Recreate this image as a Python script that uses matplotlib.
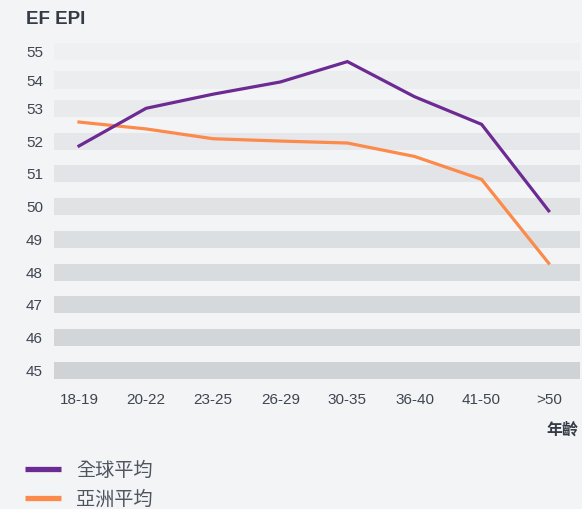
import numpy as np
import matplotlib
matplotlib.use("Agg")
import matplotlib.pyplot as plt

# ---- data ----
categories = ["18-19", "20-22", "23-25", "26-29", "30-35", "36-40", "41-50", ">50"]
global_avg = [51.85, 53.0, 53.5, 53.93, 54.65, 53.41, 52.51, 49.87]
asia_avg = [52.58, 52.37, 52.07, 52.0, 51.94, 51.53, 50.83, 48.27]
y_ticks = [45, 46, 47, 48, 49, 50, 51, 52, 53, 54, 55]
series_names = ["全球平均", "亞洲平均"]

LATIN = ["Liberation Sans", "Noto Sans CJK TC", "DejaVu Sans"]
CJK = ["Noto Sans CJK TC", "DejaVu Sans"]
plt.rcParams["font.family"] = LATIN

BG = "#f3f4f6"
PURPLE = "#6c2a93"
ORANGE = "#fb8a4b"
TXT = "#3f4550"

# piecewise-linear vertical scale (matches the reference's band spacing)
def fwd(v):
    v = np.asarray(v, dtype=float)
    return np.where(v <= 53, (v - 45) * 32.75, 262 + (v - 53) * 28.3)

def inv(t):
    t = np.asarray(t, dtype=float)
    return np.where(t <= 262, 45 + t / 32.75, 53 + (t - 262) / 28.3)

W, H = 582, 509
fig = plt.figure(figsize=(W / 100, H / 100), dpi=100, facecolor=BG)
ax_left, ax_right, ax_top, ax_bot = 54, 580, 40, 385
ax = fig.add_axes([ax_left / W, 1 - ax_bot / H, (ax_right - ax_left) / W, (ax_bot - ax_top) / H])
ax.set_facecolor(BG)
ax.set_yscale("function", functions=(fwd, inv))
ax.set_ylim(float(inv(370.3 - ax_bot)), float(inv(370.3 - ax_top)))

# bands
c_top = np.array([0xef, 0xf0, 0xf2]) / 255
c_bot = np.array([0xd0, 0xd3, 0xd6]) / 255
n = len(y_ticks)
for i, t in enumerate(y_ticks):
    f = i / (n - 1)
    col = c_bot * (1 - f) + c_top * f
    lo = float(inv(fwd(t) - 8.5))
    hi = float(inv(fwd(t) + 8.5))
    ax.axhspan(lo, hi, color=col, lw=0, zorder=0)

x = np.arange(len(categories))
l1, = ax.plot(x, global_avg, color=PURPLE, lw=2.3, solid_joinstyle="miter", zorder=3)
l2, = ax.plot(x, asia_avg, color=ORANGE, lw=2.3, solid_joinstyle="miter", zorder=2)

step = 67.1
ax.set_xlim(-(79 - ax_left) / step, (ax_right - 79) / step)
ax.set_xticks(x)
ax.set_xticklabels(categories)
ax.set_yticks(y_ticks)
ax.set_yticklabels([str(t) for t in y_ticks])
ax.minorticks_off()
ax.tick_params(axis="both", length=0, labelsize=11, labelcolor=TXT)
ax.tick_params(axis="y", pad=8)
ax.tick_params(axis="x", pad=6)
for s in ax.spines.values():
    s.set_visible(False)

fig.text(26 / W, 1 - 19 / H, "EF EPI", fontsize=13.5, fontweight="bold", color="#353b45",
         va="center", ha="left")
fig.text(578 / W, 1 - 430 / H, "年齡", fontsize=11.5, fontweight="bold", color="#353b45",
         va="center", ha="right", family=CJK)

leg = fig.legend([l1, l2], series_names, loc="upper left", bbox_to_anchor=(25 / W, 1 - 460 / H),
                 frameon=False, borderpad=0, borderaxespad=0, handlelength=1.9,
                 handletextpad=0.75, labelspacing=0.42,
                 prop={"family": CJK, "size": 13.8, "weight": "medium"})
for h in leg.legend_handles:
    h.set_linewidth(3.8)
    h.set_solid_capstyle("butt")
for t in leg.get_texts():
    t.set_color("#4f5560")

fig.savefig("out.png", dpi=100, facecolor=BG)
